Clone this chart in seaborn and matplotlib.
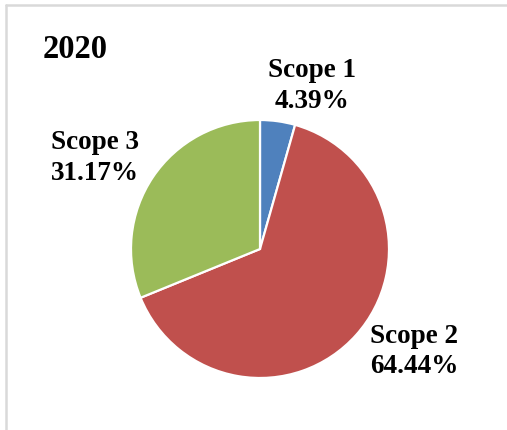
import matplotlib
matplotlib.use("Agg")
import matplotlib.pyplot as plt
from matplotlib.lines import Line2D
import seaborn as sns

categories = ["Scope 1", "Scope 2", "Scope 3"]
values = [4.39, 64.44, 31.17]
colors = ["#4F81BD", "#C0504D", "#9BBB59"]
title = "2020"

sns.set_style("white")
plt.rcParams["font.family"] = ["Liberation Serif", "DejaVu Serif"]

W, H = 507, 430
fig = plt.figure(figsize=(W / 100, H / 100), dpi=100)
fig.patch.set_facecolor("white")

cx, cy, r = 260, 249, 129
ax = fig.add_axes([(cx - r) / W, (H - cy - r) / H, 2 * r / W, 2 * r / H])
wedges, _ = ax.pie(values, colors=colors, startangle=90, counterclock=False,
                   radius=1.0, wedgeprops=dict(edgecolor="white", linewidth=1.6))
ax.set_xlim(-1, 1)
ax.set_ylim(-1, 1)
ax.set_aspect("equal")
ax.axis("off")

# label offsets (in pie-radius units)
label_pos = {"Scope 1": (0.403, 1.265), "Scope 2": (1.194, -0.795), "Scope 3": (-1.279, 0.705)}
for cat, v in zip(categories, values):
    x, y = label_pos[cat]
    ax.text(x, y, f"{cat}\n{v:.2f}%", ha="center", va="center", fontsize=19.5,
            fontweight="bold", linespacing=1.3, color="black")

fig.text(43 / W, 1 - 50 / H, title, ha="left", va="center", fontsize=23.5,
         fontweight="bold", color="black")

# chart border (light gray)
fig.add_artist(Line2D([6 / W, 6 / W], [0, 1 - 5 / H], color="#D9D9D9", linewidth=1.8,
                      transform=fig.transFigure))
fig.add_artist(Line2D([6 / W, 1], [1 - 5 / H, 1 - 5 / H], color="#D9D9D9", linewidth=1.8,
                      transform=fig.transFigure))

fig.savefig("out.png", dpi=100, facecolor="white")
